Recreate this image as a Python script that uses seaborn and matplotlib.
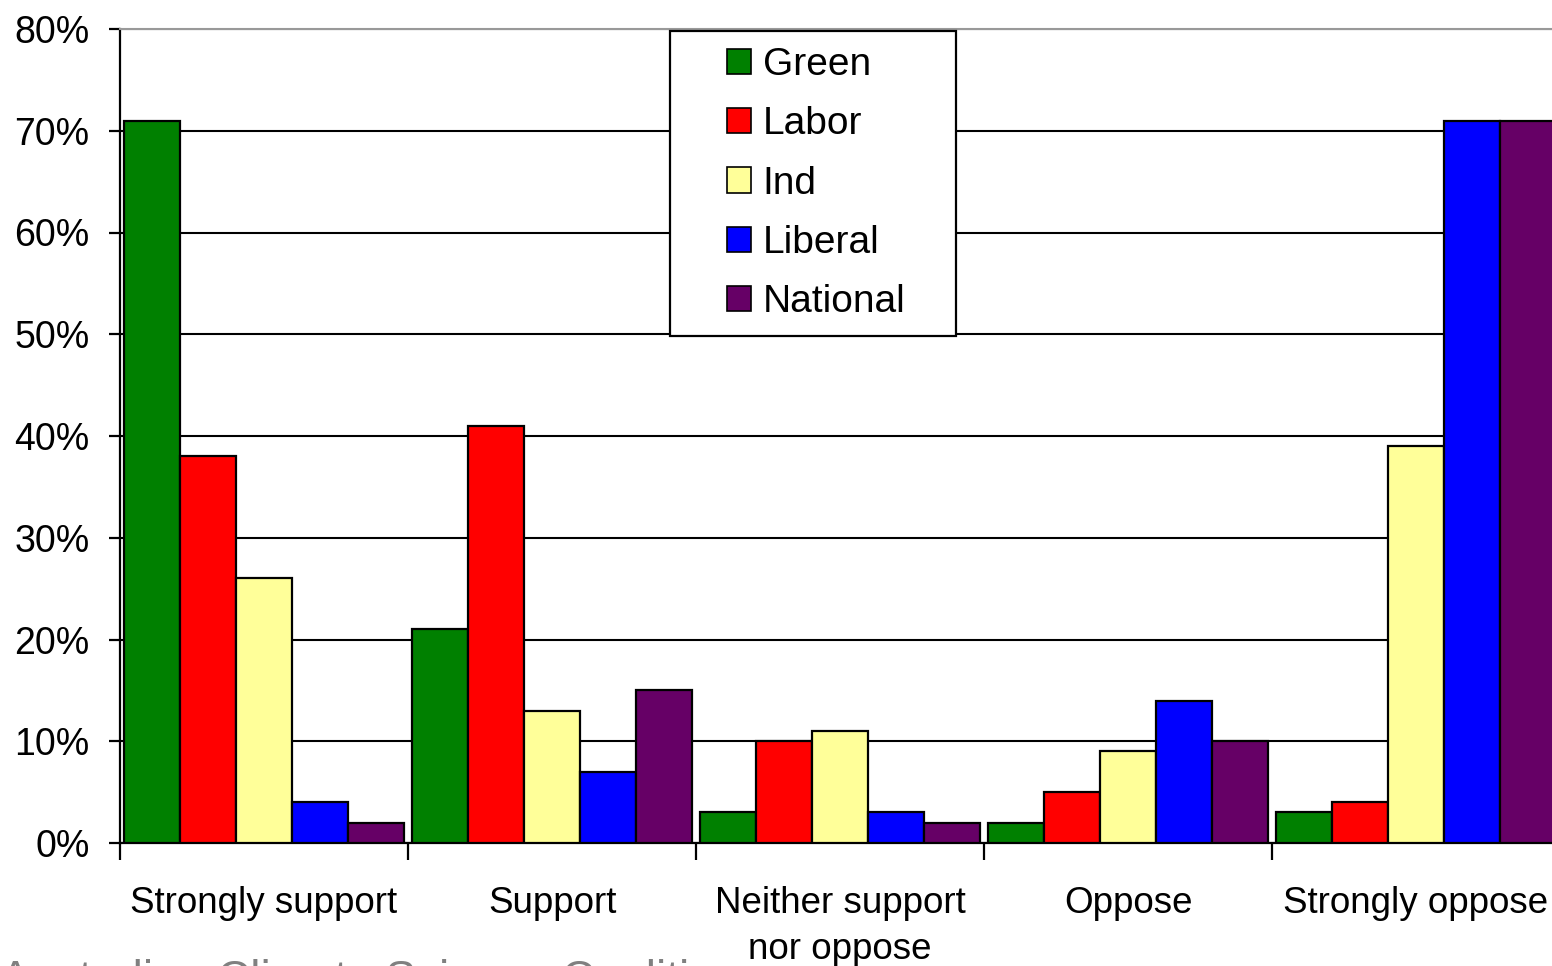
import matplotlib
matplotlib.use("Agg")
import matplotlib.pyplot as plt
from matplotlib.patches import Rectangle
from matplotlib.ticker import PercentFormatter, MultipleLocator, FixedLocator
import seaborn as sns
import pandas as pd

# data
responses = ["Strongly support", "Support", "Neither support\nnor oppose", "Oppose", "Strongly oppose"]
parties = ["Green", "Labor", "Ind", "Liberal", "National"]
green = [71, 21, 3, 2, 3]
labor = [38, 41, 10, 5, 4]
ind = [26, 13, 11, 9, 39]
liberal = [4, 7, 3, 14, 71]
national = [2, 15, 2, 10, 71]
colors = ["#008000", "#FF0000", "#FFFF99", "#0000FF", "#660066"]

rows = []
for party, vals in zip(parties, [green, labor, ind, liberal, national]):
    for resp, v in zip(responses, vals):
        rows.append({"response": resp, "party": party, "pct": v})
df = pd.DataFrame(rows)

sns.set_style("white")
plt.rcParams["font.family"] = ["Liberation Sans", "DejaVu Sans"]
plt.rcParams["text.color"] = "black"

W, H = 1552, 966
fig = plt.figure(figsize=(W / 100, H / 100), dpi=100)
ax = fig.add_axes([120 / W, (H - 843) / H, 1440 / W, (843 - 29) / H])

sns.barplot(data=df, x="response", y="pct", hue="party", order=responses,
            hue_order=parties, palette=colors, saturation=1, width=0.97,
            edgecolor="black", linewidth=1.6, ax=ax, zorder=3)

ax.set_ylim(0, 80)
ax.set_xlim(-0.5, 4.5)
ax.yaxis.set_major_locator(MultipleLocator(10))
ax.yaxis.set_major_formatter(PercentFormatter(decimals=0))
ax.grid(axis="y", color="black", linewidth=1.5, zorder=0)
ax.set_axisbelow(True)

for s in ["left", "bottom"]:
    ax.spines[s].set_color("black")
    ax.spines[s].set_linewidth(1.6)
ax.spines["top"].set_color("#999999")
ax.spines["top"].set_linewidth(1.5)
ax.spines["right"].set_visible(False)

ax.set_xlabel("")
ax.set_ylabel("")
ax.tick_params(axis="y", labelsize=27, length=8, width=1.6, direction="out",
               left=True, pad=14, color="black", labelcolor="black")
ax.tick_params(axis="x", which="major", labelsize=26.5, length=0, pad=31,
               labelcolor="black")
ax.xaxis.set_minor_locator(FixedLocator([-0.5, 0.5, 1.5, 2.5, 3.5]))
ax.tick_params(axis="x", which="minor", length=12, width=1.6, direction="out",
               bottom=True, color="black")
for lbl in ax.get_xticklabels():
    lbl.set_linespacing(1.42)

# legend box
leg = ax.legend(loc="upper center", bbox_to_anchor=(816 / W, 1 - 12 / H),
                bbox_transform=fig.transFigure, frameon=False, fontsize=28,
                handlelength=0.62, handleheight=0.62, handletextpad=0.3,
                labelspacing=0.6)
leg.set_zorder(6)
for t in leg.get_texts():
    t.set_color("black")
for h in leg.legend_handles:
    h.set_edgecolor("black")
    h.set_linewidth(1.2)
box = Rectangle((670 / W, 1 - 336 / H), 286 / W, 305 / H, transform=fig.transFigure,
                facecolor="white", edgecolor="black", linewidth=1.6, zorder=5,
                clip_on=False)
ax.add_artist(box)

# source line, mostly cut off at the bottom edge in the reference
fig.text(0.0, -0.016, "Australian Climate Science Coalition", fontsize=33,
         color="#808080", ha="left", va="center")

fig.savefig("out.png", dpi=100)
